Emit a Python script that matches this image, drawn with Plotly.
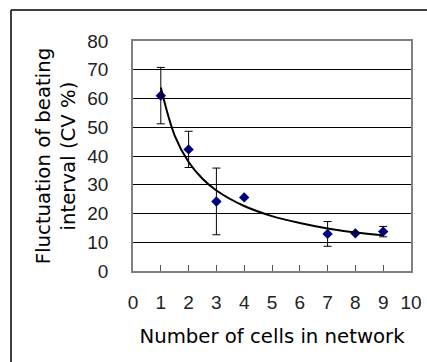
import plotly.graph_objects as go

# data
cells = [1, 2, 3, 4, 7, 8, 9]
cv = [61.0, 42.3, 24.2, 25.6, 12.9, 13.1, 13.7]
cv_err = [9.8, 6.3, 11.6, 0, 4.3, 0, 1.8]

# power trend line
trend_x = [1, 1.5, 2, 2.5, 3, 4, 5, 6, 7, 8, 9]
trend_y = [63.8, 47.1, 37.9, 32.1, 28.0, 22.6, 19.1, 16.7, 14.8, 13.4, 12.4]

x_ticks = list(range(0, 11))
y_ticks = list(range(0, 81, 10))

W, H = 427, 362
L, R, T, B = 133, 16, 41, 91

fig = go.Figure()
fig.add_trace(go.Scatter(
    x=cells, y=cv, mode="markers",
    marker=dict(symbol="diamond", size=8, color="#00007f"),
    error_y=dict(type="data", array=cv_err, visible=True,
                 color="black", thickness=1, width=4),
    showlegend=False, cliponaxis=False,
))
fig.add_trace(go.Scatter(
    x=trend_x, y=trend_y, mode="lines",
    line=dict(color="black", width=2, shape="spline"),
    showlegend=False,
))

tick_font = dict(family="Liberation Sans, Arial, sans-serif", size=19, color="#222")
title_font = dict(family="DejaVu Sans, sans-serif", size=19.7, color="black")

fig.update_xaxes(
    range=[0, 10], tickvals=x_ticks, ticks="inside", ticklen=6,
    tickcolor="#555", tickwidth=1,
    showgrid=False, zeroline=False,
    showline=True, linecolor="#808080", linewidth=1.5, mirror=True,
    tickfont=tick_font, ticklabelstandoff=13,
    title=dict(text="Number of cells in network", font=title_font, standoff=18),
)
fig.update_yaxes(
    range=[0, 80], tickvals=y_ticks, ticks="",
    showgrid=True, gridcolor="black", gridwidth=1,
    zeroline=False,
    showline=True, linecolor="#808080", linewidth=1.5, mirror=True,
    tickfont=tick_font, ticklabelstandoff=19,
    title=dict(text="Fluctuation of beating<br>interval (CV %)", font=title_font, standoff=6),
)

pw, ph = W - L - R, H - T - B
fx0 = (11 - L) / pw
fy1 = 1 + (T - 10) / ph
fig.add_shape(type="line", xref="paper", yref="paper",
              x0=fx0, x1=(W + 5 - L) / pw, y0=fy1, y1=fy1,
              line=dict(color="black", width=1.5))
fig.add_shape(type="line", xref="paper", yref="paper",
              x0=fx0, x1=fx0, y0=fy1, y1=-(H + 5 - (H - B)) / ph,
              line=dict(color="black", width=1.5))

fig.update_layout(
    width=W, height=H,
    margin=dict(l=L, r=R, t=T, b=B, autoexpand=False),
    paper_bgcolor="white", plot_bgcolor="white",
)
fig.write_html("out.html", config={"displayModeBar": False},
               post_script="document.body.style.margin='0';document.body.style.overflow='hidden';")
